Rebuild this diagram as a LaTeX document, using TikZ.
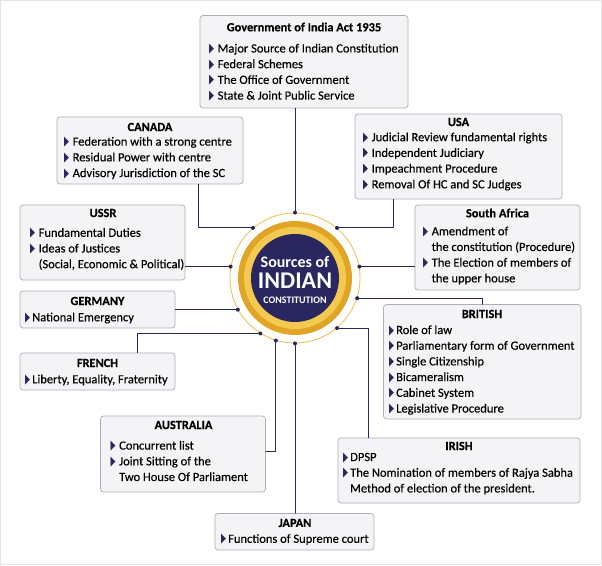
\documentclass[tikz,border=0pt]{standalone}
\usepackage{fontspec}
\setmainfont{Carlito}
\newfontfamily\cardfont{Carlito}[FakeBold=0.3]
\newfontfamily\symfont{DejaVu Sans}
\definecolor{navy}{HTML}{2A2660}
\definecolor{gold}{HTML}{E0A526}
\definecolor{goldlight}{HTML}{F4C94F}
\definecolor{goldline}{HTML}{EDBE4A}
\definecolor{cardfill}{HTML}{F4F4F7}
\definecolor{cardline}{HTML}{AEAEB8}
\definecolor{framegray}{HTML}{E4E4E8}
\newcommand\bul[1][8.5pt]{\makebox[#1][l]{\textcolor{navy}{\resizebox{5pt}{8.5pt}{\symfont ▶}}}}
\newcommand\ind{\hspace*{8.5pt}}
\tikzset{
  card/.style={draw=cardline,fill=cardfill,rounded corners=3pt,
               line width=0.7pt,inner sep=0pt},
  ttl/.style={font=\cardfont\fontsize{12.4}{15.7}\selectfont\bfseries,
              inner sep=0pt},
  itm/.style={anchor=west,align=left,inner sep=0pt},
  link/.style={draw=navy,line width=1pt},
}
\begin{document}
\begin{tikzpicture}[x=1pt,y=1pt,line cap=round,line join=round,
                    font=\cardfont\fontsize{12.5}{15.7}\selectfont]
  \useasboundingbox (0,0) rectangle (602,565);
  \draw[framegray] (0.5,0.5) rectangle (601.5,564.5);

  % Centre badge: thin ring, gold band, dark disc.
  \node[circle,draw=goldline,line width=0.8pt,fill=white,
        minimum size=130pt,inner sep=0pt] (hub) at (295,287) {};
  \fill[gold] (hub.center) circle (57pt);
  \fill[goldlight] (hub.center) circle (51pt);
  \fill[navy] (hub.center) circle (44pt);
  \node[text=white,font=\fontsize{16}{16}\selectfont\bfseries]
    (hub-a) at (295,303) {Sources of};
  \node[text=white,font=\fontsize{24}{24}\selectfont\bfseries]
    (hub-b) at (295,284) {INDIAN};
  \node[text=white,font=\fontsize{10}{10}\selectfont\bfseries]
    (hub-c) at (295,265) {CONSTITUTION};

  % Boxes round the badge.
  \node[card,minimum width=208pt,minimum height=92.5pt] (gov) at (304,503.25) {};
  \node[card,minimum width=186pt,minimum height=67pt] (canada) at (150,414.5) {};
  \node[card,minimum width=207pt,minimum height=85pt] (usa) at (458.5,408.5) {};
  \node[card,minimum width=165pt,minimum height=75pt] (ussr) at (102.5,322.5) {};
  \node[card,minimum width=165pt,minimum height=85pt] (safrica) at (497.5,317.5) {};
  \node[card,minimum width=155pt,minimum height=37pt] (germany) at (97.5,255.5) {};
  \node[card,minimum width=155pt,minimum height=37pt] (french) at (97.5,193.5) {};
  \node[card,minimum width=197.5pt,minimum height=114.5pt] (british) at (482.25,203.25) {};
  \node[card,minimum width=165pt,minimum height=76pt] (australia) at (183,111) {};
  \node[card,minimum width=242pt,minimum height=65pt] (irish) at (459,94.5) {};
  \node[card,minimum width=159pt,minimum height=36.5pt] (japan) at (294.5,33.25) {};

  % Connectors, each ending in a dot on the thin ring.
  \draw[link] (hub.90) -- (hub.90 |- gov.south);
  \draw[link] (hub.130) -| ([xshift=48pt]canada.south);
  \draw[link] (hub.50) -| ([xshift=-65.5pt]usa.south);
  \draw[link] (hub.170) -- (hub.170 -| ussr.east);
  \draw[link] (hub.10) -- (hub.10 -| safrica.west);
  \draw[link] (hub.209) -- (hub.209 -| germany.east);
  \draw[link] (hub.238) -| ([xshift=39.5pt]french.north);
  \draw[link] (hub.342) -| (british.north);
  \draw[link] ([yshift=3pt]australia.east) -| (hub.253);
  \draw[link] (hub.310) -| ([xshift=-90.5pt]irish.north);
  \draw[link] (hub.270) -- (hub.270 |- japan.north);
  \fill[navy] (hub.90) circle (2pt);
  \fill[navy] (hub.130) circle (2pt);
  \fill[navy] (hub.50) circle (2pt);
  \fill[navy] (hub.170) circle (2pt);
  \fill[navy] (hub.10) circle (2pt);
  \fill[navy] (hub.209) circle (2pt);
  \fill[navy] (hub.238) circle (2pt);
  \fill[navy] (hub.342) circle (2pt);
  \fill[navy] (hub.253) circle (2pt);
  \fill[navy] (hub.310) circle (2pt);
  \fill[navy] (hub.270) circle (2pt);

  % Titles and items.
  \node[ttl] (gov-t) at (304,538) {Government of India Act 1935};
  \node[itm] (gov-i) at (209,492.5)
    {\bul Major Source of Indian Constitution\\\bul Federal Schemes\\
     \bul The Office of Government\\\bul State \& Joint Public Service};

  \node[ttl] (canada-t) at (150,438) {CANADA};
  \node[itm] (canada-i) at (64,407)
    {\bul Federation with a strong centre\\\bul Residual Power with centre\\
     \bul Advisory Jurisdiction of the SC};

  \node[ttl] (usa-t) at (458.5,443) {USA};
  \node[itm] (usa-i) at (363,403.5)
    {\bul Judicial Review fundamental rights\\\bul Independent Judiciary\\
     \bul Impeachment Procedure\\\bul Removal Of HC and SC Judges};

  \node[ttl] (ussr-t) at (103,352) {USSR};
  \node[itm] (ussr-i) at (30,316)
    {\bul Fundamental Duties\\\bul Ideas of Justices\\
     \ind(Social, Economic \& Political)};

  \node[ttl] (safrica-t) at (497.5,352) {South Africa};
  \node[itm] (safrica-i) at (423,309.5)
    {\bul Amendment of\\\ind the constitution (Procedure)\\
     \bul The Election of members of\\\ind the upper house};

  \node[ttl] (germany-t) at (97.5,264) {GERMANY};
  \node[itm] (germany-i) at (25,247) {\bul[7pt]National Emergency};

  \node[ttl] (french-t) at (97.5,202) {FRENCH};
  \node[itm] (french-i) at (25,185) {\bul[7pt]Liberty, Equality, Fraternity};

  \node[ttl] (british-t) at (482,251) {BRITISH};
  \node[itm] (british-i) at (389,195)
    {\bul[7pt]Role of law\\\bul[7pt]Parliamentary form of Government\\
     \bul[7pt]Single Citizenship\\\bul[7pt]Bicameralism\\
     \bul[7pt]Cabinet System\\\bul[7pt]Legislative Procedure};

  \node[ttl] (australia-t) at (183.5,140) {AUSTRALIA};
  \node[itm] (australia-i) at (110.5,104)
    {\bul Concurrent list\\\bul Joint Sitting of the\\
     \ind Two House Of Parliament};

  \node[ttl] (irish-t) at (459,119) {IRISH};
  \node[itm] (irish-i) at (343,91.5)
    {\bul[7pt]DPSP\\\bul[7pt]The Nomination of members of Rajya Sabha\\
     \hspace*{7pt}Method of election of the president.};

  \node[ttl] (japan-t) at (295,42) {JAPAN};
  \node[itm] (japan-i) at (221,25.5) {\bul[7pt]Functions of Supreme court};
\end{tikzpicture}
\end{document}
